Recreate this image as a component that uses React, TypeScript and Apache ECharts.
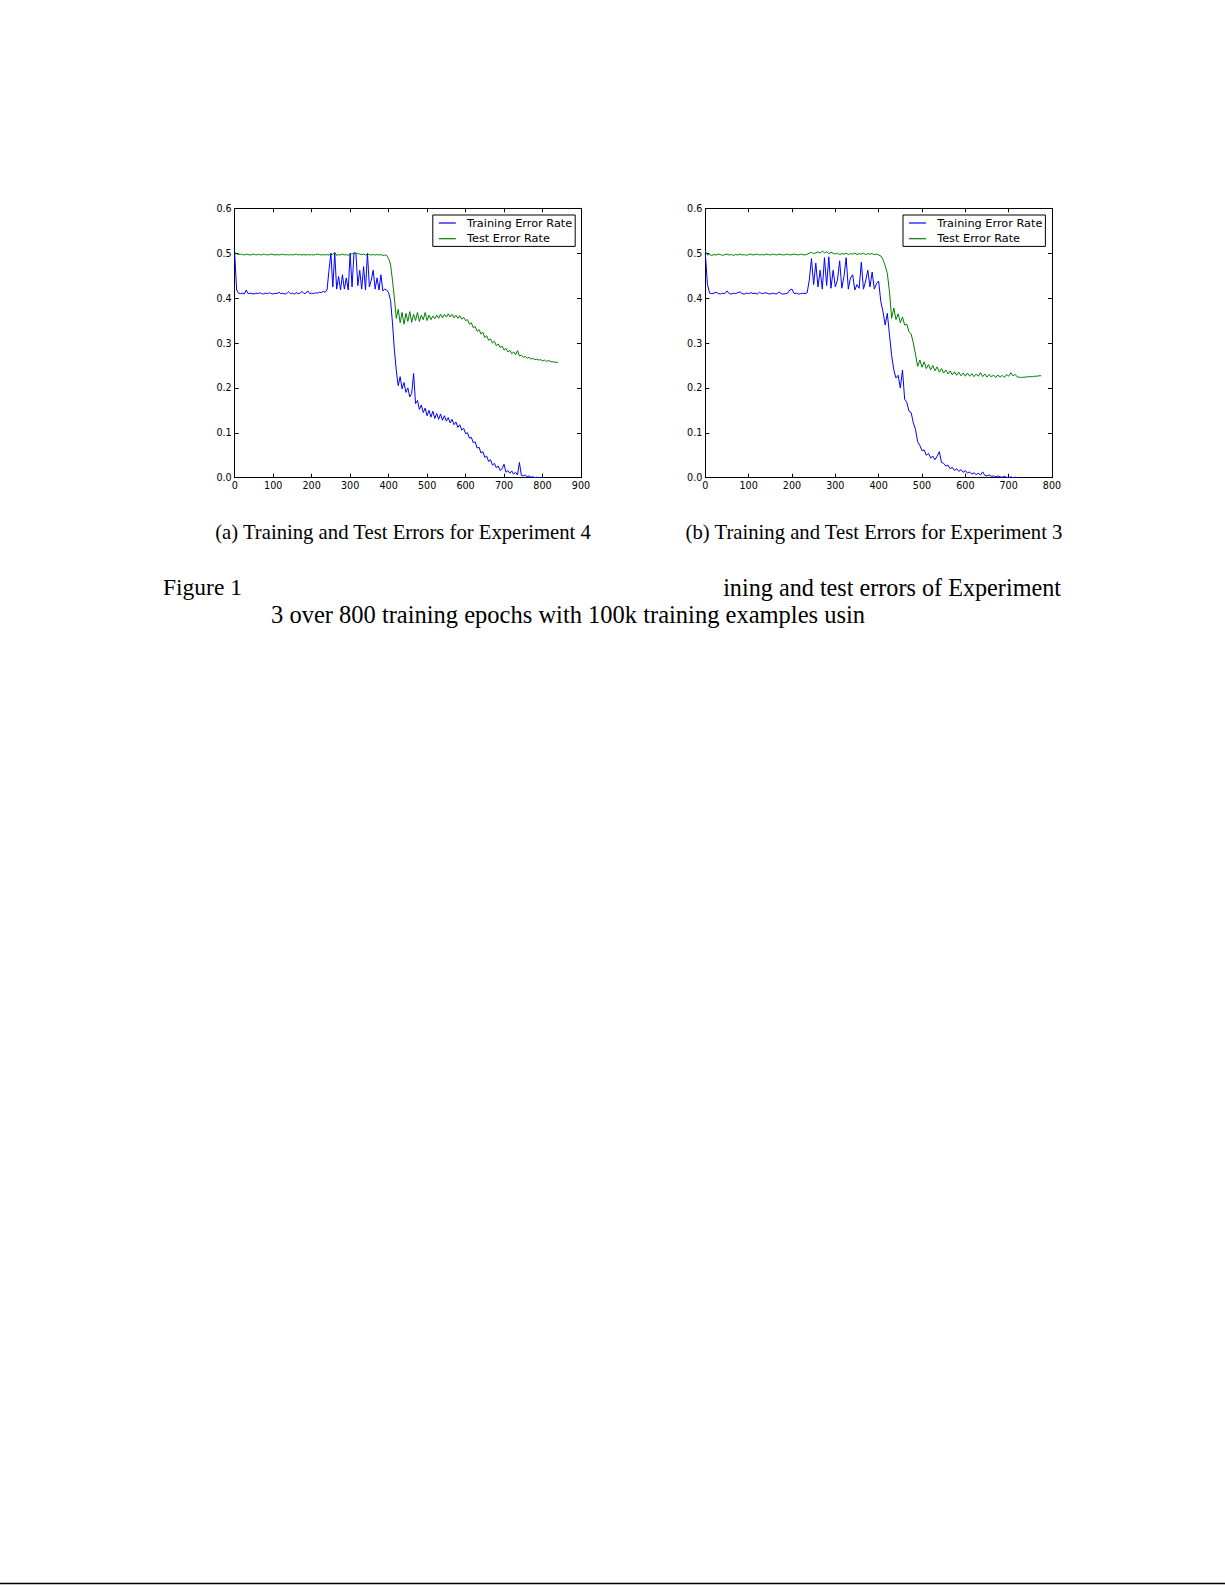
import React, { useEffect, useRef } from "react";
import * as echarts from "echarts";

// ---------------- DATA ----------------
const STEP = 5; // epochs between stored samples

const seriesNames = ["Training Error Rate", "Test Error Rate"];
const xMaxes = [900, 800];
const yMax = 0.6;

// Experiment 4 (left panel)
const exp4Train = [
  0.500, 0.418, 0.411, 0.410, 0.411, 0.409, 0.418, 0.410, 0.411, 0.410,
  0.409, 0.411, 0.410, 0.412, 0.410, 0.409, 0.411, 0.410, 0.412, 0.410,
  0.409, 0.411, 0.410, 0.413, 0.410, 0.411, 0.409, 0.410, 0.414, 0.410,
  0.411, 0.409, 0.412, 0.410, 0.411, 0.415, 0.410, 0.411, 0.416, 0.410,
  0.411, 0.410, 0.412, 0.411, 0.413, 0.412, 0.415, 0.413, 0.418, 0.462,
  0.500, 0.425, 0.500, 0.420, 0.448, 0.418, 0.452, 0.420, 0.445, 0.418,
  0.500, 0.425, 0.500, 0.500, 0.428, 0.462, 0.420, 0.470, 0.418, 0.500,
  0.425, 0.440, 0.462, 0.420, 0.445, 0.418, 0.452, 0.416, 0.420, 0.418,
  0.412, 0.395, 0.345, 0.285, 0.238, 0.205, 0.225, 0.198, 0.212, 0.190,
  0.200, 0.180, 0.188, 0.232, 0.165, 0.172, 0.152, 0.162, 0.145, 0.155,
  0.138, 0.150, 0.135, 0.148, 0.132, 0.143, 0.130, 0.142, 0.128, 0.138,
  0.126, 0.134, 0.122, 0.130, 0.118, 0.124, 0.112, 0.118, 0.106, 0.110,
  0.098, 0.100, 0.088, 0.090, 0.078, 0.080, 0.066, 0.068, 0.055, 0.058,
  0.045, 0.048, 0.036, 0.040, 0.028, 0.032, 0.022, 0.026, 0.016, 0.020,
  0.030, 0.012, 0.016, 0.010, 0.015, 0.008, 0.012, 0.006, 0.034, 0.005,
  0.004, 0.006, 0.002, 0.004, 0.001, 0.002, 0.000, 0.001, 0.000, 0.000,
  0.000,
];

const exp4Test = [
  0.503, 0.498, 0.497, 0.498, 0.497, 0.496, 0.498, 0.497, 0.496, 0.497,
  0.498, 0.496, 0.497, 0.497, 0.496, 0.498, 0.497, 0.496, 0.497, 0.498,
  0.497, 0.496, 0.497, 0.496, 0.497, 0.498, 0.496, 0.497, 0.496, 0.497,
  0.496, 0.497, 0.498, 0.496, 0.497, 0.496, 0.497, 0.496, 0.497, 0.496,
  0.497, 0.496, 0.497, 0.498, 0.497, 0.496, 0.497, 0.496, 0.497, 0.496,
  0.498, 0.497, 0.502, 0.495, 0.497, 0.496, 0.498, 0.496, 0.497, 0.495,
  0.499, 0.498, 0.501, 0.500, 0.499, 0.498, 0.497, 0.498, 0.496, 0.498,
  0.497, 0.496, 0.497, 0.496, 0.497, 0.496, 0.497, 0.495, 0.496, 0.495,
  0.488, 0.475, 0.440, 0.400, 0.355, 0.375, 0.345, 0.368, 0.342, 0.366,
  0.348, 0.370, 0.346, 0.364, 0.350, 0.368, 0.348, 0.362, 0.352, 0.368,
  0.350, 0.362, 0.352, 0.360, 0.354, 0.362, 0.355, 0.364, 0.356, 0.364,
  0.358, 0.365, 0.358, 0.364, 0.356, 0.362, 0.355, 0.361, 0.353, 0.357,
  0.350, 0.352, 0.342, 0.345, 0.334, 0.337, 0.326, 0.330, 0.320, 0.324,
  0.312, 0.316, 0.306, 0.309, 0.300, 0.304, 0.294, 0.298, 0.290, 0.293,
  0.284, 0.288, 0.280, 0.284, 0.276, 0.280, 0.274, 0.283, 0.271, 0.273,
  0.268, 0.270, 0.266, 0.268, 0.264, 0.266, 0.263, 0.264, 0.262, 0.263,
  0.260, 0.262, 0.259, 0.261, 0.259, 0.258, 0.258, 0.257, 0.257,
];

// Experiment 3 (right panel)
const exp3Train = [
  0.500, 0.430, 0.411, 0.410, 0.411, 0.413, 0.410, 0.409, 0.411, 0.410,
  0.416, 0.410, 0.409, 0.411, 0.410, 0.412, 0.414, 0.410, 0.409, 0.411,
  0.410, 0.412, 0.410, 0.411, 0.409, 0.413, 0.410, 0.411, 0.412, 0.410,
  0.409, 0.411, 0.410, 0.409, 0.414, 0.410, 0.409, 0.410, 0.411, 0.418,
  0.420, 0.410, 0.411, 0.409, 0.410, 0.411, 0.410, 0.412, 0.440, 0.488,
  0.430, 0.478, 0.425, 0.462, 0.420, 0.490, 0.428, 0.492, 0.422, 0.462,
  0.425, 0.440, 0.483, 0.422, 0.448, 0.490, 0.420, 0.445, 0.452, 0.418,
  0.430, 0.422, 0.480, 0.420, 0.438, 0.462, 0.425, 0.458, 0.420, 0.432,
  0.438, 0.392, 0.370, 0.340, 0.366, 0.318, 0.272, 0.240, 0.222, 0.228,
  0.200, 0.240, 0.175, 0.168, 0.148, 0.145, 0.122, 0.108, 0.080, 0.072,
  0.060, 0.062, 0.050, 0.054, 0.044, 0.048, 0.040, 0.048, 0.058, 0.034,
  0.032, 0.026, 0.028, 0.020, 0.023, 0.016, 0.020, 0.014, 0.018, 0.012,
  0.016, 0.010, 0.013, 0.008, 0.011, 0.007, 0.010, 0.006, 0.013, 0.005,
  0.004, 0.006, 0.003, 0.004, 0.002, 0.004, 0.002, 0.001, 0.003, 0.001,
  0.000, 0.002, 0.000, 0.001, 0.000,
];

const exp3Test = [
  0.505, 0.496, 0.497, 0.495, 0.497, 0.496, 0.498, 0.497, 0.495, 0.497,
  0.498, 0.496, 0.497, 0.495, 0.497, 0.496, 0.498, 0.496, 0.497, 0.495,
  0.497, 0.498, 0.496, 0.497, 0.498, 0.496, 0.497, 0.496, 0.498, 0.497,
  0.496, 0.498, 0.497, 0.496, 0.498, 0.497, 0.496, 0.497, 0.498, 0.496,
  0.497, 0.498, 0.497, 0.496, 0.498, 0.497, 0.496, 0.498, 0.500, 0.502,
  0.499, 0.501, 0.503, 0.500, 0.505, 0.501, 0.503, 0.499, 0.502, 0.500,
  0.498, 0.500, 0.497, 0.499, 0.498, 0.500, 0.497, 0.499, 0.498, 0.500,
  0.497, 0.499, 0.498, 0.500, 0.497, 0.499, 0.498, 0.499, 0.497, 0.498,
  0.496, 0.494, 0.486, 0.472, 0.455, 0.414, 0.355, 0.378, 0.352, 0.365,
  0.345, 0.358, 0.340, 0.342, 0.325, 0.320, 0.300, 0.275, 0.248, 0.262,
  0.246, 0.258, 0.243, 0.252, 0.240, 0.250, 0.238, 0.247, 0.235, 0.243,
  0.233, 0.240, 0.231, 0.238, 0.229, 0.236, 0.228, 0.235, 0.227, 0.233,
  0.226, 0.233, 0.226, 0.232, 0.225, 0.231, 0.226, 0.234, 0.225, 0.231,
  0.224, 0.230, 0.224, 0.229, 0.223, 0.229, 0.224, 0.228, 0.223, 0.230,
  0.226, 0.234, 0.227, 0.230, 0.224, 0.224, 0.223, 0.224, 0.224, 0.225,
  0.225, 0.225, 0.226, 0.226, 0.227, 0.227,
];

const subCaptions = [
  "(a) Training and Test Errors for Experiment 4",
  "(b) Training and Test Errors for Experiment 3",
];
const figLabel = "Figure 1";
const figLine1Tail = "ining and test errors of Experiment";
const figLine2 = "3 over 800 training epochs with 100k training examples usin";

// ---------------- LAYOUT ----------------
const W = 1225;
const H = 1585;
const grids = [
  { left: 234.7, top: 208.3, width: 346.3, height: 269.4 },
  { left: 705.3, top: 208.3, width: 346.7, height: 269.4 },
];
const legendLefts = [432.8, 903];
const captionCenters = [403, 874];
const BLUE = "#0000ff";
const GREEN = "#008000";
const tickFont = { fontFamily: "DejaVu Sans", fontSize: 9.6, color: "#000" };

const toPairs = (vals: number[]) => vals.map((v, i) => [i * STEP, v]);

export default function App() {
  const ref = useRef<HTMLDivElement>(null);

  useEffect(() => {
    if (!ref.current) return;
    const chart = echarts.init(ref.current, undefined, { renderer: "svg" });

    const axLine = { show: true, onZero: false, lineStyle: { color: "#000", width: 1 } };
    const tick = { show: true, inside: true, length: 4, lineStyle: { color: "#000", width: 1 } };
    const xAxis: any[] = [];
    const yAxis: any[] = [];
    grids.forEach((_, g) => {
      xAxis.push({
        type: "value", gridIndex: g, position: "bottom", min: 0, max: xMaxes[g], interval: 100,
        axisLine: axLine, splitLine: { show: false }, axisTick: tick,
        axisLabel: { ...tickFont, margin: 3 },
      });
      xAxis.push({
        type: "value", gridIndex: g, position: "top", min: 0, max: xMaxes[g], interval: 100,
        axisLine: axLine, splitLine: { show: false }, axisTick: tick,
        axisLabel: { show: false },
      });
      yAxis.push({
        type: "value", gridIndex: g, position: "left", min: 0, max: yMax, interval: 0.1,
        axisLine: axLine, splitLine: { show: false }, axisTick: tick,
        axisLabel: { ...tickFont, margin: 3, formatter: (v: number) => v.toFixed(1) },
      });
      yAxis.push({
        type: "value", gridIndex: g, position: "right", min: 0, max: yMax, interval: 0.1,
        axisLine: axLine, splitLine: { show: false }, axisTick: tick,
        axisLabel: { show: false },
      });
    });

    const panels = [
      [exp4Train, exp4Test],
      [exp3Train, exp3Test],
    ];
    const series: any[] = [];
    panels.forEach((pair, g) => {
      pair.forEach((vals, k) => {
        const c = k === 0 ? BLUE : GREEN;
        series.push({
          type: "line",
          name: seriesNames[k],
          xAxisIndex: g * 2,
          yAxisIndex: g * 2,
          data: toPairs(vals),
          symbol: "none",
          showSymbol: false,
          lineStyle: { color: c, width: 1 },
          itemStyle: { color: c },
          emphasis: { disabled: true },
        });
      });
    });

    const legend = grids.map((_, g) => ({
      left: legendLefts[g],
      top: 215,
      orient: "vertical",
      data: seriesNames.map((n) => ({ name: n })),
      icon: "rect",
      itemWidth: 17,
      itemHeight: 1.2,
      itemGap: 4.7,
      padding: [2.5, 3, 2.2, 6],
      borderColor: "#000",
      borderWidth: 1,
      borderRadius: 0,
      backgroundColor: "#fff",
      selectedMode: false,
      textStyle: { fontFamily: "DejaVu Sans", fontSize: 11.3, color: "#000", padding: [0, 0, 0, 6.2] },
    }));

    const serif = "Liberation Serif";
    const graphic: any[] = [
      {
        type: "text", x: captionCenters[0], y: 532,
        style: { text: subCaptions[0], fontFamily: serif, fontSize: 20.7, fill: "#000", verticalAlign: "middle", align: "center" },
      },
      {
        type: "text", x: captionCenters[1], y: 532,
        style: { text: subCaptions[1], fontFamily: serif, fontSize: 20.7, fill: "#000", verticalAlign: "middle", align: "center" },
      },
      {
        type: "text", x: 163, y: 587,
        style: { text: figLabel, fontFamily: serif, fontSize: 23.5, fill: "#000", verticalAlign: "middle" },
      },
      {
        type: "text", x: 1061, y: 587,
        style: { text: figLine1Tail, fontFamily: serif, fontSize: 24.2, fill: "#000", verticalAlign: "middle", align: "right" },
      },
      {
        type: "text", x: 271, y: 614,
        style: { text: figLine2, fontFamily: serif, fontSize: 24.5, fill: "#000", verticalAlign: "middle" },
      },
      {
        type: "line",
        shape: { x1: 0, y1: 1583.5, x2: W, y2: 1583.5 },
        style: { stroke: "#000", lineWidth: 1.5 },
      },
    ];

    chart.setOption({
      animation: false,
      backgroundColor: "#fff",
      grid: grids.map((g) => ({ ...g, containLabel: false })),
      xAxis,
      yAxis,
      legend,
      series,
      graphic,
    });

    return () => chart.dispose();
  }, []);

  return (
    <div
      ref={ref}
      style={{ position: "fixed", left: 0, top: 0, width: W, height: H, background: "#fff" }}
    />
  );
}
